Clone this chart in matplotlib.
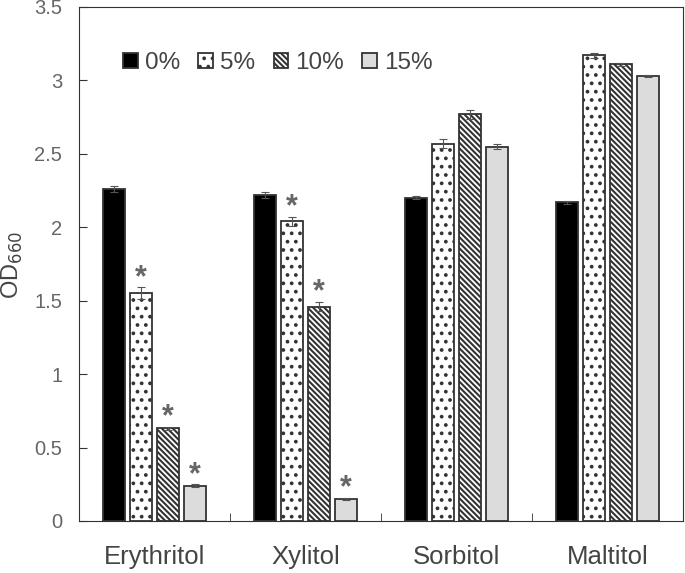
import matplotlib
matplotlib.use("Agg")
import matplotlib.pyplot as plt
import numpy as np

plt.rcParams['font.family'] = ['Liberation Sans', 'DejaVu Sans']
plt.rcParams['hatch.linewidth'] = 1.5

categories = ["Erythritol", "Xylitol", "Sorbitol", "Maltitol"]
series = ["0%", "5%", "10%", "15%"]
values = {
    "0%":  [2.26, 2.22, 2.20, 2.17],
    "5%":  [1.55, 2.04, 2.57, 3.17],
    "10%": [0.63, 1.46, 2.77, 3.11],
    "15%": [0.24, 0.15, 2.55, 3.03],
}
errors = {
    "0%":  [0.02, 0.02, 0.01, 0.01],
    "5%":  [0.04, 0.03, 0.03, 0.02],
    "10%": [0.01, 0.03, 0.03, 0.01],
    "15%": [0.01, 0.01, 0.02, 0.01],
}
significant = {
    "0%":  [False, False, False, False],
    "5%":  [True, True, False, False],
    "10%": [True, True, False, False],
    "15%": [True, True, False, False],
}
yticks = [0, 0.5, 1, 1.5, 2, 2.5, 3, 3.5]

styles = {
    "0%":  dict(facecolor="black", hatch=None),
    "5%":  dict(facecolor="white", hatch=".."),
    "10%": dict(facecolor="white", hatch="\\\\\\\\\\\\"),
    "15%": dict(facecolor="#dcdcdc", hatch=None),
}

fig = plt.figure(figsize=(6.85, 5.73), dpi=100)
ax = fig.add_axes([79/685, 1-521/573, (683-79)/685, (521-7)/573])

x = np.arange(len(categories))
step = 0.18
width = 0.145
for i, s in enumerate(series):
    pos = x + (i - 1.5) * step
    ax.bar(pos, values[s], width, yerr=errors[s], edgecolor="#333333", linewidth=1.3,
           error_kw=dict(ecolor="#555555", elinewidth=0.8, capsize=3, capthick=0.8),
           label=s, **styles[s])
    for p, v, e, sig in zip(pos, values[s], errors[s], significant[s]):
        if sig:
            ax.text(p, v + e + 0.01, "*", ha="center", va="baseline", fontsize=22,
                    fontweight="bold", color="#666666")

ax.set_xlim(-0.5, len(categories) - 0.5)
ax.set_ylim(0, 3.5)
ax.set_yticks(yticks)
ax.set_yticklabels([f"{t:g}" for t in yticks])
ax.set_xticks(x)
ax.set_xticklabels(categories, fontsize=18.5, color="#444444")
ax.set_xticks(np.arange(0.5, len(categories) - 0.5, 1), minor=True)
ax.tick_params(axis="x", which="major", length=0, pad=17)
ax.tick_params(axis="x", which="minor", direction="in", length=6, color="#333333")
ax.tick_params(axis="y", direction="in", length=6, labelsize=14.5, labelcolor="#666666", pad=12, color="#333333")
for sp in ax.spines.values():
    sp.set_color("#333333")
ax.set_ylabel("OD$_{660}$", fontsize=17, color="#444444")
ax.yaxis.set_label_coords(25/685, 1-265/573, transform=fig.transFigure)

leg = ax.legend(loc="center left", bbox_to_anchor=(123/685, 1-63/573), bbox_transform=fig.transFigure,
                ncol=4, frameon=False, borderpad=0, borderaxespad=0,
                fontsize=17.5, handlelength=0.6, handleheight=0.6, handletextpad=0.3,
                columnspacing=0.75, labelcolor="#444444")

fig.savefig("out.png", dpi=100)
